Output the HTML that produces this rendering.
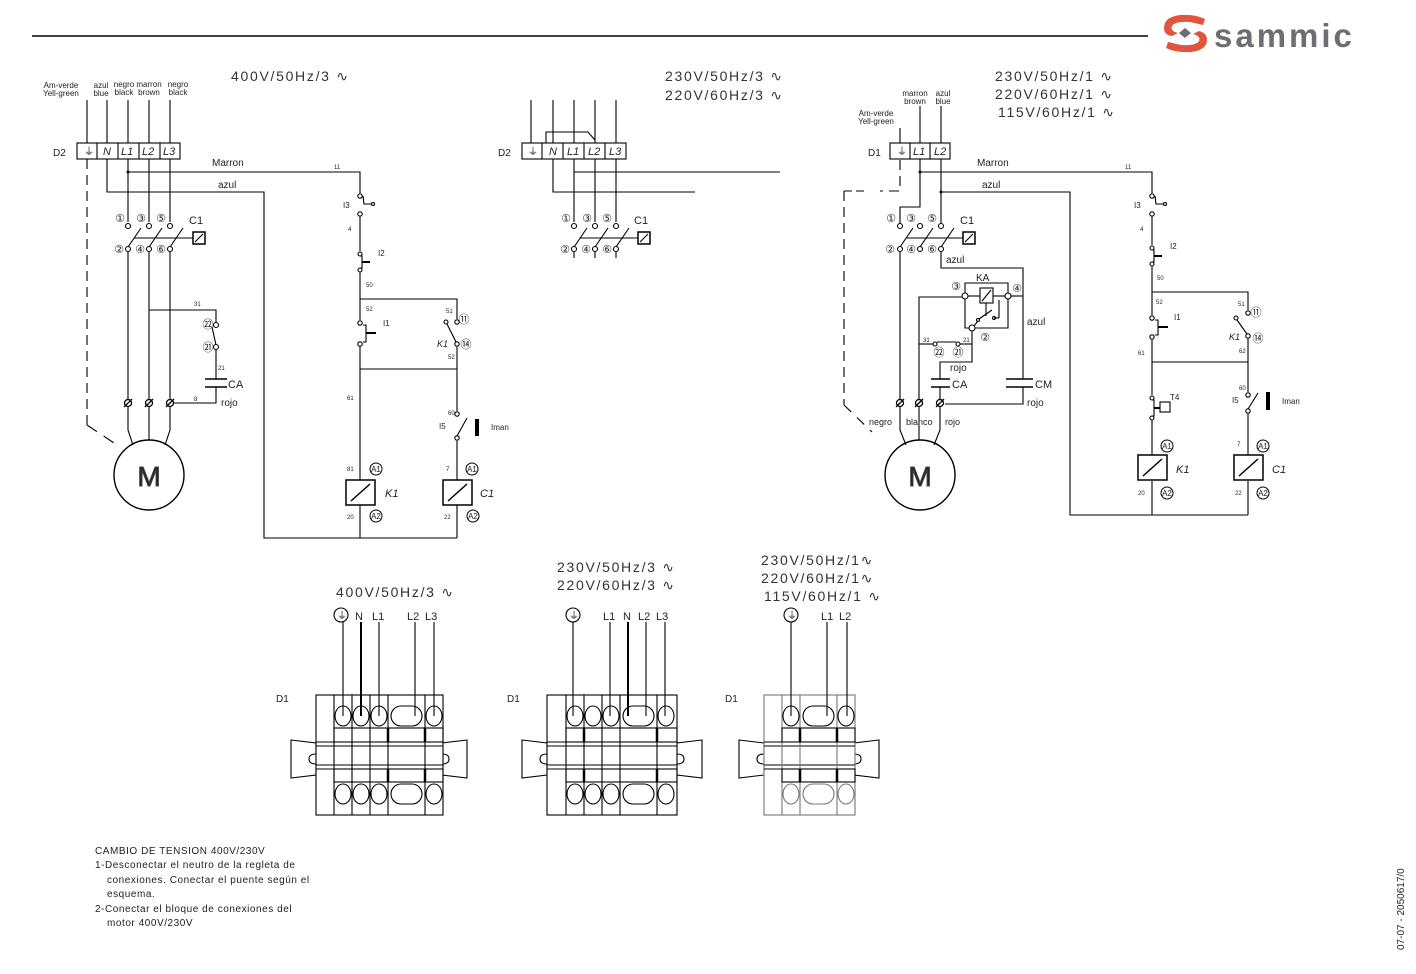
<!DOCTYPE html>
<html><head><meta charset="utf-8"><style>
html,body{margin:0;padding:0;background:#fff;width:1416px;height:974px;overflow:hidden}
svg{display:block}
text{font-family:"Liberation Sans","DejaVu Sans",sans-serif;fill:#222}
.s6{font-size:6px}.s8{font-size:8px}.s9{font-size:9px}.s10{font-size:10px}.s11{font-size:11px}.s14{font-size:14px;fill:#333;letter-spacing:1.7px}
.n{font-size:10px;letter-spacing:0.55px}
.c{font-family:"DejaVu Sans",sans-serif;font-size:11px;text-anchor:middle}
.i{font-style:italic}
</style></head><body>
<svg width="1416" height="974" viewBox="0 0 1416 974" xmlns="http://www.w3.org/2000/svg">
<defs>
<g id="coil"><rect x="0" y="0" width="29" height="25" fill="#fff" stroke="#000" stroke-width="1.5"/><line x1="5" y1="21" x2="24" y2="4" stroke="#000" stroke-width="1.5"/></g>
<g id="term"><circle r="3.5" fill="#fff" stroke="#000" stroke-width="1.3"/><line x1="-4" y1="4" x2="4" y2="-4" stroke="#000" stroke-width="1.3"/></g>
<g id="railL"><path d="M0 0 L25 3 L25 14 Q18 14 18 19 Q18 24 25 24 L25 35 L0 38 Z" fill="#fff" stroke="#000"/></g>
</defs>
<g stroke="#000" stroke-width="1.1" fill="none">
<line x1="32" y1="36" x2="1148" y2="36" stroke-width="1.5"/>

<!-- ===== LEFT CIRCUIT ===== -->
<line x1="87" y1="100" x2="87" y2="143"/><line x1="107" y1="100" x2="107" y2="143"/><line x1="128" y1="100" x2="128" y2="143"/><line x1="149" y1="100" x2="149" y2="143"/><line x1="170" y1="100" x2="170" y2="143"/>
<rect x="77" y="143" width="103" height="16"/><line x1="97" y1="143" x2="97" y2="159"/><line x1="118" y1="143" x2="118" y2="159"/><line x1="139" y1="143" x2="139" y2="159"/><line x1="160" y1="143" x2="160" y2="159"/>
<line x1="87" y1="159" x2="87" y2="425" stroke-dasharray="10,6"/><line x1="87" y1="425" x2="120" y2="447" stroke-dasharray="12,8"/>
<polyline points="107,159 107,192 264,192 264,538 457,538"/>
<polyline points="128,159 128,222"/><polyline points="149,159 149,222"/><polyline points="170,159 170,222"/>
<polyline points="128,172 360,172 360,193"/>
<circle cx="128" cy="226" r="2.5"/><circle cx="149" cy="226" r="2.5"/><circle cx="170" cy="226" r="2.5"/>
<circle cx="128" cy="249" r="2.5"/><circle cx="149" cy="249" r="2.5"/><circle cx="170" cy="249" r="2.5"/>
<line x1="128" y1="247" x2="141" y2="228"/><line x1="149" y1="247" x2="162" y2="228"/><line x1="170" y1="247" x2="183" y2="228"/>
<line x1="134" y1="238" x2="193" y2="238"/><rect x="193" y="232" width="12" height="12" stroke-width="1.5"/><line x1="195" y1="242" x2="203" y2="234"/>
<line x1="128" y1="252" x2="128" y2="399"/><line x1="149" y1="252" x2="149" y2="399"/><line x1="170" y1="252" x2="170" y2="399"/>
<polyline points="128,407 128,430 133,445"/><line x1="149" y1="407" x2="149" y2="440"/><polyline points="170,407 170,430 165,445"/>
<circle cx="149" cy="475" r="35" stroke-width="1.4"/>
<polyline points="149,310 216,310 216,322"/><circle cx="216" cy="325" r="2.5"/><circle cx="216" cy="347" r="2.5"/><line x1="216" y1="345" x2="212" y2="327"/>
<polyline points="216,350 216,379"/><line x1="205" y1="379" x2="227" y2="379" stroke-width="1.5"/><line x1="205" y1="387" x2="227" y2="387" stroke-width="1.5"/>
<polyline points="216,387 216,403 174,403"/>
<!-- control -->
<circle cx="360" cy="196" r="2.2"/><circle cx="360" cy="214" r="2.2"/><polyline points="363,196 364,204 372,204"/><circle cx="373" cy="204" r="1.5"/>
<line x1="360" y1="217" x2="360" y2="251"/>
<circle cx="360" cy="254" r="2"/><circle cx="360" cy="270" r="2"/><polyline points="360,256 362,256 362,268 360,268"/><line x1="362" y1="262" x2="370" y2="262" stroke-width="2"/>
<line x1="360" y1="272" x2="360" y2="320"/>
<polyline points="360,299 457,299 457,319"/>
<circle cx="360" cy="323" r="2.2"/><circle cx="360" cy="344" r="2.2"/><polyline points="363,325 366,325 366,342 363,342"/><line x1="366" y1="333" x2="376" y2="333" stroke-width="2"/>
<line x1="360" y1="347" x2="360" y2="480"/><line x1="360" y1="505" x2="360" y2="538"/>
<polyline points="360,369 457,369"/>
<circle cx="457" cy="322" r="2.2"/><circle cx="457" cy="344" r="2.2"/><circle cx="446" cy="322" r="2"/><line x1="447" y1="324" x2="456" y2="342"/>
<line x1="457" y1="347" x2="457" y2="411"/>
<circle cx="457" cy="414" r="2.2"/><circle cx="457" cy="438" r="2.2"/><line x1="457" y1="436" x2="467" y2="418"/>
<line x1="457" y1="441" x2="457" y2="480"/><line x1="457" y1="505" x2="457" y2="538"/>

<!-- ===== MIDDLE TOP ===== -->
<line x1="531" y1="100" x2="531" y2="143"/><line x1="553" y1="100" x2="553" y2="143"/><line x1="574" y1="100" x2="574" y2="143"/><line x1="595" y1="100" x2="595" y2="143"/><line x1="616" y1="100" x2="616" y2="143"/>
<polyline points="546,143 546,132 588,132 595,140"/>
<rect x="522" y="143" width="104" height="16"/><line x1="542" y1="143" x2="542" y2="159"/><line x1="563" y1="143" x2="563" y2="159"/><line x1="584" y1="143" x2="584" y2="159"/><line x1="605" y1="143" x2="605" y2="159"/>
<polyline points="553,159 553,192 695,192"/><polyline points="574,159 574,222"/><line x1="574" y1="172" x2="780" y2="172"/>
<line x1="595" y1="159" x2="595" y2="222"/><line x1="616" y1="159" x2="616" y2="222"/>
<circle cx="574" cy="226" r="2.5"/><circle cx="595" cy="226" r="2.5"/><circle cx="616" cy="226" r="2.5"/>
<circle cx="574" cy="249" r="2.5"/><circle cx="595" cy="249" r="2.5"/><circle cx="616" cy="249" r="2.5"/>
<line x1="574" y1="247" x2="587" y2="228"/><line x1="595" y1="247" x2="608" y2="228"/><line x1="616" y1="247" x2="629" y2="228"/>
<line x1="580" y1="238" x2="638" y2="238"/><rect x="638" y="232" width="12" height="12" stroke-width="1.5"/><line x1="640" y1="242" x2="648" y2="234"/>
<line x1="574" y1="252" x2="574" y2="258"/><line x1="595" y1="252" x2="595" y2="258"/><line x1="616" y1="252" x2="616" y2="258"/>

<!-- ===== RIGHT CIRCUIT ===== -->
<line x1="900" y1="128" x2="900" y2="143"/><line x1="920" y1="106" x2="920" y2="143"/><line x1="941" y1="106" x2="941" y2="143"/>
<rect x="890" y="143" width="60" height="16"/><line x1="910" y1="143" x2="910" y2="159"/><line x1="930" y1="143" x2="930" y2="159"/>
<polyline points="900,160 900,191 880,191" stroke-dasharray="10,6"/><line x1="864" y1="191" x2="844" y2="191" stroke-dasharray="8,4"/>
<line x1="844" y1="191" x2="844" y2="405" stroke-dasharray="10,6"/><line x1="844" y1="405" x2="872" y2="432" stroke-dasharray="10,8"/>
<polyline points="920,159 920,207 900,207 900,223"/><polyline points="941,159 941,223"/>
<polyline points="920,172 1152,172 1152,193"/>
<polyline points="941,192 1070,192 1070,515 1248,515"/>
<circle cx="900" cy="226" r="2.5"/><circle cx="920" cy="226" r="2.5"/><circle cx="941" cy="226" r="2.5"/>
<circle cx="900" cy="249" r="2.5"/><circle cx="920" cy="249" r="2.5"/><circle cx="941" cy="249" r="2.5"/>
<line x1="900" y1="247" x2="913" y2="228"/><line x1="920" y1="247" x2="933" y2="228"/><line x1="941" y1="247" x2="954" y2="228"/>
<line x1="906" y1="238" x2="963" y2="238"/><rect x="963" y="232" width="12" height="12" stroke-width="1.5"/><line x1="965" y1="242" x2="973" y2="234"/>
<polyline points="941,252 941,268 1023,268 1023,379"/>
<line x1="1006" y1="379" x2="1033" y2="379" stroke-width="1.5"/><line x1="1006" y1="387" x2="1033" y2="387" stroke-width="1.5"/>
<polyline points="1023,387 1023,404 945,404"/>
<line x1="900" y1="252" x2="900" y2="399"/>
<polyline points="919,399 919,297 962,297"/>
<polyline points="965,293 965,283 1008,283 1008,293"/>
<circle cx="965" cy="296" r="3"/><circle cx="1008" cy="296" r="3"/>
<rect x="980" y="288" width="13" height="15"/><line x1="982" y1="301" x2="991" y2="290"/>
<line x1="968" y1="296" x2="980" y2="296"/><line x1="993" y1="296" x2="1005" y2="296"/><line x1="1011" y1="296" x2="1023" y2="296"/>
<polyline points="965,299 965,328 969,328"/><polyline points="1008,299 1008,328 975,328"/><circle cx="972" cy="328" r="3"/>
<line x1="986" y1="303" x2="986" y2="316"/><circle cx="978" cy="320" r="1.5"/><circle cx="994" cy="318" r="1.5"/><line x1="979" y1="319" x2="992" y2="310"/><line x1="994" y1="318" x2="999" y2="318"/><line x1="999" y1="318" x2="999" y2="300"/>
<line x1="978" y1="321" x2="974" y2="326"/>
<polyline points="919,344 933,344"/><circle cx="935" cy="344" r="2"/><circle cx="958" cy="344" r="2"/><line x1="937" y1="342" x2="956" y2="342"/><polyline points="960,344 972,344"/>
<polyline points="972,331 972,362 940,362 940,379"/>
<line x1="931" y1="379" x2="950" y2="379" stroke-width="1.5"/><line x1="931" y1="387" x2="950" y2="387" stroke-width="1.5"/>
<line x1="940" y1="387" x2="940" y2="399"/>
<polyline points="900,407 900,430 906,445"/><line x1="919" y1="407" x2="919" y2="440"/><polyline points="940,407 940,430 934,445"/>
<circle cx="920" cy="475" r="35" stroke-width="1.4"/>
<!-- right control -->
<circle cx="1152" cy="196" r="2.2"/><circle cx="1152" cy="214" r="2.2"/><polyline points="1155,196 1156,204 1164,204"/><circle cx="1165" cy="204" r="1.5"/>
<line x1="1152" y1="217" x2="1152" y2="245"/>
<circle cx="1152" cy="248" r="2"/><circle cx="1152" cy="264" r="2"/><polyline points="1152,250 1154,250 1154,262 1152,262"/><line x1="1154" y1="256" x2="1162" y2="256" stroke-width="2"/>
<line x1="1152" y1="266" x2="1152" y2="315"/>
<polyline points="1152,292 1248,292 1248,310"/>
<circle cx="1152" cy="318" r="2.2"/><circle cx="1152" cy="337" r="2.2"/><polyline points="1155,320 1158,320 1158,335 1155,335"/><line x1="1158" y1="327" x2="1168" y2="327" stroke-width="2"/>
<line x1="1152" y1="340" x2="1152" y2="395"/>
<line x1="1152" y1="362" x2="1248" y2="362"/>
<circle cx="1152" cy="398" r="2"/><circle cx="1152" cy="418" r="2"/><polyline points="1152,400 1154,400 1154,416 1152,416"/><rect x="1160" y="402" width="10" height="10"/><line x1="1154" y1="408" x2="1160" y2="408" stroke-width="2"/>
<line x1="1152" y1="420" x2="1152" y2="455"/><line x1="1152" y1="481" x2="1152" y2="515"/>
<circle cx="1248" cy="313" r="2.2"/><circle cx="1248" cy="336" r="2.2"/><circle cx="1236" cy="318" r="2"/><line x1="1237" y1="320" x2="1247" y2="334"/>
<line x1="1248" y1="339" x2="1248" y2="392"/>
<circle cx="1248" cy="395" r="2.2"/><circle cx="1248" cy="411" r="2.2"/><line x1="1248" y1="409" x2="1258" y2="393"/>
<line x1="1248" y1="414" x2="1248" y2="455"/><line x1="1248" y1="481" x2="1248" y2="515"/>

<!-- ===== BOTTOM BLOCKS ===== -->
<use href="#railL" x="291" y="740"/><use href="#railL" transform="translate(467,740) scale(-1,1)"/>
<rect x="316" y="695" width="127" height="120" fill="#fff"/>
<line x1="316" y1="742" x2="443" y2="742"/><line x1="316" y1="746" x2="443" y2="746"/><line x1="316" y1="765" x2="443" y2="765"/><line x1="316" y1="769" x2="443" y2="769"/>
<line x1="334" y1="695" x2="334" y2="815"/><line x1="352" y1="695" x2="352" y2="815"/><line x1="370" y1="695" x2="370" y2="815"/><line x1="388" y1="695" x2="388" y2="815"/><line x1="425" y1="695" x2="425" y2="815"/>
<rect x="334" y="728" width="109" height="14"/><rect x="334" y="769" width="109" height="13"/>
<line x1="388" y1="728" x2="388" y2="742" stroke-width="2.5"/><line x1="425" y1="728" x2="425" y2="742" stroke-width="2.5"/><line x1="388" y1="769" x2="388" y2="782" stroke-width="2.5"/><line x1="425" y1="769" x2="425" y2="782" stroke-width="2.5"/>
<ellipse cx="343" cy="716" rx="8" ry="10"/><ellipse cx="361" cy="716" rx="8" ry="10"/><ellipse cx="379" cy="716" rx="8" ry="10"/><rect x="391" y="706" width="31" height="20" rx="10"/><ellipse cx="434" cy="716" rx="8" ry="10"/>
<ellipse cx="343" cy="794" rx="8" ry="10"/><ellipse cx="361" cy="794" rx="8" ry="10"/><ellipse cx="379" cy="794" rx="8" ry="10"/><rect x="391" y="784" width="31" height="20" rx="10"/><ellipse cx="434" cy="794" rx="8" ry="10"/>
<line x1="343" y1="622" x2="343" y2="716"/><line x1="361" y1="622" x2="361" y2="716" stroke-width="2"/><line x1="379" y1="622" x2="379" y2="716"/><line x1="415" y1="622" x2="415" y2="716"/><line x1="434" y1="622" x2="434" y2="716"/>
<circle cx="341" cy="615" r="7"/>
<use href="#railL" x="522" y="740"/><use href="#railL" transform="translate(702,740) scale(-1,1)"/>
<rect x="547" y="695" width="130" height="120" fill="#fff"/>
<line x1="547" y1="742" x2="677" y2="742"/><line x1="547" y1="746" x2="677" y2="746"/><line x1="547" y1="765" x2="677" y2="765"/><line x1="547" y1="769" x2="677" y2="769"/>
<line x1="566" y1="695" x2="566" y2="815"/><line x1="584" y1="695" x2="584" y2="815"/><line x1="602" y1="695" x2="602" y2="815"/><line x1="620" y1="695" x2="620" y2="815"/><line x1="657" y1="695" x2="657" y2="815"/>
<rect x="566" y="728" width="111" height="14"/><rect x="566" y="769" width="111" height="13"/>
<line x1="584" y1="728" x2="584" y2="742" stroke-width="2.5"/><line x1="657" y1="728" x2="657" y2="742" stroke-width="2.5"/><line x1="584" y1="769" x2="584" y2="782" stroke-width="2.5"/><line x1="657" y1="769" x2="657" y2="782" stroke-width="2.5"/>
<ellipse cx="575" cy="716" rx="8" ry="10"/><ellipse cx="593" cy="716" rx="8" ry="10"/><ellipse cx="611" cy="716" rx="8" ry="10"/><rect x="623" y="706" width="31" height="20" rx="10"/><ellipse cx="666" cy="716" rx="8" ry="10"/>
<ellipse cx="575" cy="794" rx="8" ry="10"/><ellipse cx="593" cy="794" rx="8" ry="10"/><ellipse cx="611" cy="794" rx="8" ry="10"/><rect x="623" y="784" width="31" height="20" rx="10"/><ellipse cx="666" cy="794" rx="8" ry="10"/>
<line x1="573" y1="622" x2="573" y2="716"/><line x1="610" y1="622" x2="610" y2="716"/><line x1="628" y1="622" x2="628" y2="716" stroke-width="2"/><line x1="646" y1="622" x2="646" y2="716"/><line x1="665" y1="622" x2="665" y2="716"/>
<circle cx="573" cy="615" r="7"/>
<use href="#railL" x="739" y="740"/><use href="#railL" transform="translate(879,740) scale(-1,1)"/>
<rect x="764" y="695" width="91" height="120" fill="#fff" stroke="#777"/>
<line x1="764" y1="742" x2="855" y2="742"/><line x1="764" y1="746" x2="855" y2="746"/><line x1="764" y1="765" x2="855" y2="765"/><line x1="764" y1="769" x2="855" y2="769"/>
<line x1="782" y1="695" x2="782" y2="815" stroke="#777"/><line x1="800" y1="695" x2="800" y2="815" stroke="#777"/><line x1="837" y1="695" x2="837" y2="815" stroke="#777"/>
<rect x="782" y="728" width="73" height="14"/><rect x="782" y="769" width="73" height="13"/>
<line x1="800" y1="728" x2="800" y2="742" stroke-width="2.5"/><line x1="837" y1="728" x2="837" y2="742" stroke-width="2.5"/><line x1="800" y1="769" x2="800" y2="782" stroke-width="2.5"/><line x1="837" y1="769" x2="837" y2="782" stroke-width="2.5"/>
<ellipse cx="791" cy="716" rx="8" ry="10"/><rect x="803" y="706" width="31" height="20" rx="10"/><ellipse cx="846" cy="716" rx="8" ry="10"/>
<ellipse cx="791" cy="794" rx="8" ry="10" stroke="#777"/><rect x="803" y="784" width="31" height="20" rx="10" stroke="#777"/><ellipse cx="846" cy="794" rx="8" ry="10" stroke="#777"/>
<line x1="791" y1="622" x2="791" y2="716"/><line x1="827" y1="622" x2="827" y2="716"/><line x1="847" y1="622" x2="847" y2="716"/>
<circle cx="791" cy="615" r="7"/>
</g>
<use href="#coil" x="346" y="480"/><use href="#coil" x="443" y="480"/><use href="#coil" x="1138" y="455"/><use href="#coil" x="1234" y="455"/>
<use href="#term" x="128" y="403"/><use href="#term" x="149" y="403"/><use href="#term" x="170" y="403"/>
<use href="#term" x="900" y="403"/><use href="#term" x="919" y="403"/><use href="#term" x="940" y="403"/>
<rect x="475" y="419" width="4" height="17" fill="#000"/><rect x="1266" y="392" width="4" height="18" fill="#000"/>
<circle cx="128" cy="172" r="1.5" fill="#000"/><circle cx="920" cy="172" r="1.5" fill="#000"/><circle cx="941" cy="192" r="1.5" fill="#000"/>

<!-- TEXT -->
<g>
<text class="s8" x="61" y="88" text-anchor="middle">Am-verde</text><text class="s8" x="61" y="96" text-anchor="middle">Yell-green</text>
<text class="s8" x="101" y="88" text-anchor="middle">azul</text><text class="s8" x="101" y="96" text-anchor="middle">blue</text>
<text class="s8" x="124" y="87" text-anchor="middle">negro</text><text class="s8" x="124" y="95" text-anchor="middle">black</text>
<text class="s8" x="149" y="87" text-anchor="middle">marron</text><text class="s8" x="149" y="95" text-anchor="middle">brown</text>
<text class="s8" x="178" y="87" text-anchor="middle">negro</text><text class="s8" x="178" y="95" text-anchor="middle">black</text>
<text class="s14" x="231" y="81">400V/50Hz/3 ∿</text>
<text class="s10" x="53" y="156">D2</text>
<text class="s10" x="84" y="155">⏚</text><text class="s11 i" x="103" y="155">N</text><text class="s11 i" x="121" y="155">L1</text><text class="s11 i" x="142" y="155">L2</text><text class="s11 i" x="163" y="155">L3</text>
<text class="s10" x="212" y="166">Marron</text><text class="s6" x="334" y="169">11</text><text class="s10" x="218" y="188">azul</text>
<text class="c" x="120" y="222">①</text><text class="c" x="141" y="222">③</text><text class="c" x="161" y="222">⑤</text><text class="s11" x="189" y="224">C1</text>
<text class="c" x="119" y="253">②</text><text class="c" x="140" y="253">④</text><text class="c" x="161" y="253">⑥</text>
<text class="s6" x="194" y="306">31</text><text class="c" x="208" y="328">㉒</text><text class="c" x="208" y="351">㉑</text><text class="s6" x="218" y="370">21</text>
<text class="s11" x="228" y="388">CA</text><text class="s6" x="194" y="401">8</text><text class="s10" x="221" y="406">rojo</text>
<text x="149" y="486" font-size="28" text-anchor="middle" fill="#fff" stroke="#444" stroke-width="1">M</text>
<text class="s8" x="343" y="208">I3</text><text class="s6" x="348" y="231">4</text><text class="s8" x="378" y="256">I2</text><text class="s6" x="366" y="287">50</text>
<text class="s6" x="366" y="311">52</text><text class="s8" x="383" y="326">I1</text><text class="s6" x="347" y="400">61</text>
<text class="s6" x="347" y="471">81</text><text class="s11 i" x="385" y="497">K1</text><text class="s6" x="347" y="519">20</text>
<text class="s6" x="446" y="313">51</text><text class="c" x="464" y="323">⑪</text><text class="s9 i" x="437" y="347">K1</text><text class="c" x="466" y="348">⑭</text><text class="s6" x="448" y="359">52</text>
<text class="s6" x="448" y="415">60</text><text class="s8" x="439" y="429">I5</text><text class="s8" x="491" y="430">Iman</text>
<text class="s6" x="446" y="471">7</text><text class="s11 i" x="480" y="497">C1</text><text class="s6" x="444" y="519">22</text>
<g><circle cx="376" cy="469" r="6" fill="#fff" stroke="#000"/><text x="376" y="472" text-anchor="middle" class="s8">A1</text>
<circle cx="376" cy="516" r="6" fill="#fff" stroke="#000"/><text x="376" y="519" text-anchor="middle" class="s8">A2</text>
<circle cx="472" cy="469" r="6" fill="#fff" stroke="#000"/><text x="472" y="472" text-anchor="middle" class="s8">A1</text>
<circle cx="473" cy="516" r="6" fill="#fff" stroke="#000"/><text x="473" y="519" text-anchor="middle" class="s8">A2</text>
<circle cx="1167" cy="446" r="6" fill="#fff" stroke="#000"/><text x="1167" y="449" text-anchor="middle" class="s8">A1</text>
<circle cx="1167" cy="493" r="6" fill="#fff" stroke="#000"/><text x="1167" y="496" text-anchor="middle" class="s8">A2</text>
<circle cx="1263" cy="446" r="6" fill="#fff" stroke="#000"/><text x="1263" y="449" text-anchor="middle" class="s8">A1</text>
<circle cx="1263" cy="493" r="6" fill="#fff" stroke="#000"/><text x="1263" y="496" text-anchor="middle" class="s8">A2</text></g>

<text class="s14" x="665" y="81">230V/50Hz/3 ∿</text><text class="s14" x="665" y="100">220V/60Hz/3 ∿</text>
<text class="s10" x="498" y="156">D2</text>
<text class="s10" x="528" y="155">⏚</text><text class="s11 i" x="549" y="155">N</text><text class="s11 i" x="567" y="155">L1</text><text class="s11 i" x="588" y="155">L2</text><text class="s11 i" x="609" y="155">L3</text>
<text class="c" x="566" y="222">①</text><text class="c" x="587" y="222">③</text><text class="c" x="607" y="222">⑤</text><text class="s11" x="634" y="224">C1</text>
<text class="c" x="565" y="253">②</text><text class="c" x="586" y="253">④</text><text class="c" x="607" y="253">⑥</text>

<text class="s14" x="995" y="81">230V/50Hz/1 ∿</text><text class="s14" x="995" y="99">220V/60Hz/1 ∿</text><text class="s14" x="998" y="117">115V/60Hz/1 ∿</text>
<text class="s8" x="915" y="96" text-anchor="middle">marron</text><text class="s8" x="915" y="104" text-anchor="middle">brown</text>
<text class="s8" x="943" y="96" text-anchor="middle">azul</text><text class="s8" x="943" y="104" text-anchor="middle">blue</text>
<text class="s8" x="876" y="116" text-anchor="middle">Am-verde</text><text class="s8" x="876" y="124" text-anchor="middle">Yell-green</text>
<text class="s10" x="868" y="156">D1</text>
<text class="s10" x="897" y="155">⏚</text><text class="s11 i" x="913" y="155">L1</text><text class="s11 i" x="934" y="155">L2</text>
<text class="s10" x="977" y="166">Marron</text><text class="s6" x="1125" y="169">11</text><text class="s10" x="982" y="188">azul</text>
<text class="c" x="891" y="222">①</text><text class="c" x="911" y="222">③</text><text class="c" x="932" y="222">⑤</text><text class="s11" x="960" y="224">C1</text>
<text class="c" x="890" y="253">②</text><text class="c" x="911" y="253">④</text><text class="c" x="932" y="253">⑥</text>
<text class="s10" x="946" y="263">azul</text><text class="s10" x="976" y="281">KA</text>
<text class="c" x="956" y="290">③</text><text class="c" x="1017" y="292">④</text><text class="c" x="985" y="341">②</text>
<text class="s10" x="1027" y="325">azul</text>
<text class="s6" x="923" y="342">31</text><text class="s6" x="963" y="342">21</text><text class="c" x="939" y="356">㉒</text><text class="c" x="958" y="356">㉑</text>
<text class="s10" x="950" y="371">rojo</text><text class="s11" x="952" y="388">CA</text><text class="s11" x="1035" y="388">CM</text><text class="s10" x="1027" y="406">rojo</text>
<text class="s9" x="869" y="425">negro</text><text class="s9" x="906" y="425">blanco</text><text class="s9" x="945" y="425">rojo</text>
<text x="920" y="486" font-size="28" text-anchor="middle" fill="#fff" stroke="#444" stroke-width="1">M</text>
<text class="s8" x="1134" y="208">I3</text><text class="s6" x="1140" y="231">4</text><text class="s8" x="1170" y="249">I2</text><text class="s6" x="1157" y="280">50</text>
<text class="s6" x="1156" y="304">52</text><text class="s8" x="1174" y="320">I1</text><text class="s6" x="1138" y="355">61</text>
<text class="s8" x="1170" y="400">T4</text><text class="s11 i" x="1176" y="473">K1</text><text class="s6" x="1138" y="495">20</text>
<text class="s6" x="1238" y="306">51</text><text class="c" x="1256" y="316">⑪</text><text class="s9 i" x="1229" y="340">K1</text><text class="c" x="1258" y="342">⑭</text><text class="s6" x="1239" y="353">62</text>
<text class="s6" x="1239" y="390">60</text><text class="s8" x="1232" y="403">I5</text><text class="s8" x="1282" y="404">Iman</text>
<text class="s6" x="1237" y="446">7</text><text class="s11 i" x="1272" y="473">C1</text><text class="s6" x="1235" y="495">22</text>

<text class="s14" x="336" y="597">400V/50Hz/3 ∿</text>
<text class="s10" x="337" y="619">⏚</text><text class="s11" x="355" y="620">N</text><text class="s11" x="372" y="620">L1</text><text class="s11" x="407" y="620">L2</text><text class="s11" x="425" y="620">L3</text>
<text class="s14" x="557" y="572">230V/50Hz/3 ∿</text><text class="s14" x="557" y="590">220V/60Hz/3 ∿</text>
<text class="s10" x="569" y="619">⏚</text><text class="s11" x="603" y="620">L1</text><text class="s11" x="623" y="620">N</text><text class="s11" x="638" y="620">L2</text><text class="s11" x="656" y="620">L3</text>
<text class="s14" x="761" y="565">230V/50Hz/1∿</text><text class="s14" x="761" y="583">220V/60Hz/1∿</text><text class="s14" x="764" y="601">115V/60Hz/1 ∿</text>
<text class="s10" x="787" y="619">⏚</text><text class="s11" x="821" y="620">L1</text><text class="s11" x="839" y="620">L2</text>
<text class="s10" x="276" y="702">D1</text><text class="s10" x="507" y="702">D1</text><text class="s10" x="725" y="702">D1</text>

<text class="n" x="95" y="854">CAMBIO DE TENSION 400V/230V</text>
<text class="n" x="95" y="868">1-Desconectar el neutro de la regleta de</text>
<text class="n" x="107" y="883">conexiones. Conectar el puente según el</text>
<text class="n" x="107" y="897">esquema.</text>
<text class="n" x="95" y="912">2-Conectar el bloque de conexiones del</text>
<text class="n" x="107" y="926">motor    400V/230V</text>
<text class="s10" transform="translate(1404,950) rotate(-90)">07-07 - 2050617/0</text>

<!-- logo -->
<path d="M1205 19 Q1195 14 1180 15 Q1164 17 1164 28 Q1164 35 1172 36 L1178 33 Q1170 31 1172 26 Q1175 21 1190 22 L1203 25 Z" fill="#e2553c"/>
<path d="M1166 48 Q1176 53 1191 52 Q1207 50 1207 40 Q1207 33 1199 31 L1193 34 Q1201 36 1199 41 Q1196 46 1181 45 L1168 42 Z" fill="#e2553c"/>
<path d="M1185 28 L1191 33 L1185 38 L1179 33 Z" fill="#6d6e71"/>
<text x="1214" y="47" font-size="33" font-weight="bold" style="fill:#6d6e71;letter-spacing:3px">sammic</text>
</g>
</svg>
</body></html>
